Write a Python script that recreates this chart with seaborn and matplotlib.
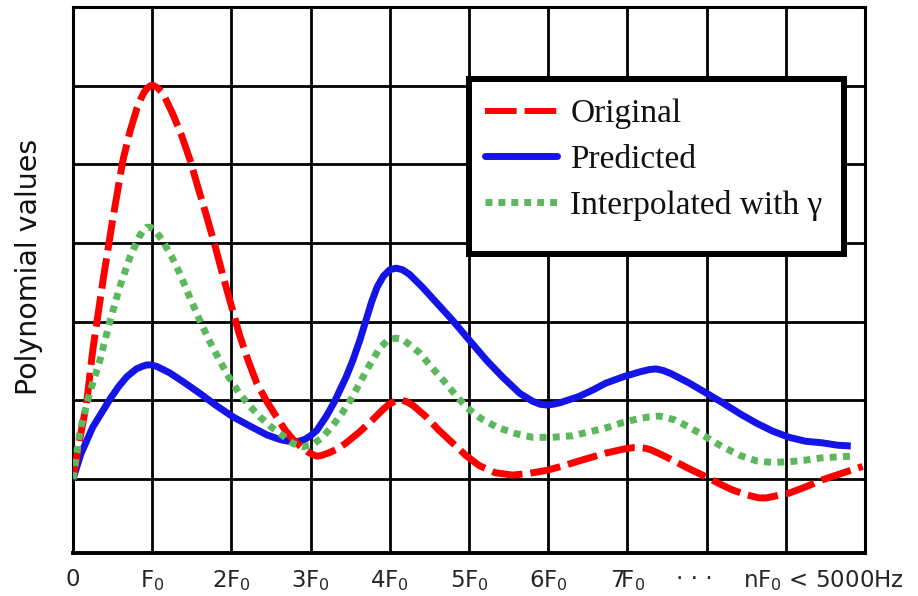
import matplotlib
matplotlib.use("Agg")
import matplotlib.pyplot as plt
from matplotlib.lines import Line2D
from matplotlib.patches import Rectangle
import seaborn as sns

# Harmonic positions in units of F0 and polynomial values of each curve
x_original = [0.00, 0.09, 0.17, 0.25, 0.38, 0.50, 0.63, 0.72, 0.81, 0.86, 0.90,
              0.94, 0.98, 1.02, 1.07, 1.12, 1.16, 1.26, 1.37, 1.48, 1.58, 1.69,
              1.80, 1.90, 2.00, 2.10, 2.21, 2.32, 2.45, 2.57, 2.68, 2.78, 2.90,
              2.97, 3.03, 3.08, 3.14, 3.25, 3.35, 3.45, 3.62, 3.78, 3.92, 3.99,
              4.05, 4.10, 4.16, 4.22, 4.30, 4.46, 4.62, 4.79, 4.96, 5.13, 5.33,
              5.55, 5.75, 5.98, 6.20, 6.39, 6.56, 6.73, 6.95, 7.08, 7.15, 7.23,
              7.30, 7.45, 7.57, 7.78, 7.99, 8.16, 8.33, 8.50, 8.58, 8.66, 8.75,
              8.85, 9.04, 9.25, 9.46, 9.70, 9.97]
y_original = [0.00, 0.53, 0.95, 1.64, 2.53, 3.29, 4.05, 4.42, 4.72, 4.84, 4.92,
              4.97, 5.00, 5.00, 4.97, 4.92, 4.85, 4.64, 4.37, 4.05, 3.70, 3.33,
              2.94, 2.56, 2.20, 1.84, 1.51, 1.22, 0.98, 0.79, 0.62, 0.50, 0.39,
              0.34, 0.31, 0.29, 0.30, 0.34, 0.39, 0.46, 0.60, 0.75, 0.89, 0.95,
              0.98, 1.00, 1.00, 0.98, 0.93, 0.79, 0.62, 0.46, 0.30, 0.17, 0.08,
              0.05, 0.07, 0.11, 0.17, 0.23, 0.28, 0.33, 0.38, 0.40, 0.40, 0.39,
              0.37, 0.30, 0.24, 0.13, 0.03, -0.06, -0.14, -0.20, -0.22, -0.24,
              -0.24, -0.22, -0.18, -0.10, -0.01, 0.07, 0.16]

x_predicted = [0.00, 0.10, 0.25, 0.36, 0.47, 0.58, 0.68, 0.80, 0.87, 0.93, 0.99,
               1.06, 1.22, 1.40, 1.60, 1.80, 2.02, 2.24, 2.45, 2.62, 2.72, 2.78,
               2.85, 2.92, 3.00, 3.08, 3.20, 3.30, 3.37, 3.45, 3.53, 3.62, 3.70,
               3.77, 3.84, 3.92, 4.00, 4.08, 4.16, 4.25, 4.41, 4.60, 4.79, 5.00,
               5.22, 5.43, 5.64, 5.80, 5.90, 5.98, 6.06, 6.15, 6.39, 6.56, 6.73,
               6.95, 7.15, 7.27, 7.36, 7.45, 7.55, 7.78, 8.00, 8.20, 8.42, 8.63,
               8.83, 9.04, 9.25, 9.46, 9.65, 9.82]
y_predicted = [0.00, 0.32, 0.66, 0.84, 1.02, 1.18, 1.30, 1.40, 1.43, 1.45, 1.45,
               1.43, 1.35, 1.23, 1.09, 0.94, 0.79, 0.67, 0.56, 0.50, 0.48, 0.47,
               0.48, 0.50, 0.55, 0.62, 0.80, 0.98, 1.13, 1.30, 1.50, 1.76, 2.02,
               2.25, 2.44, 2.58, 2.66, 2.68, 2.66, 2.60, 2.44, 2.23, 2.02, 1.77,
               1.51, 1.29, 1.09, 0.99, 0.95, 0.94, 0.95, 0.97, 1.05, 1.13, 1.22,
               1.30, 1.36, 1.39, 1.40, 1.38, 1.34, 1.22, 1.09, 0.97, 0.83, 0.71,
               0.61, 0.53, 0.48, 0.46, 0.43, 0.42]

x_interp = [0.00, 0.09, 0.21, 0.34, 0.47, 0.59, 0.72, 0.83, 0.88, 0.93, 0.98,
            1.03, 1.13, 1.24, 1.35, 1.47, 1.60, 1.72, 1.85, 1.97, 2.10, 2.23,
            2.36, 2.48, 2.61, 2.78, 2.90, 3.03, 3.15, 3.28, 3.40, 3.52, 3.62,
            3.75, 3.87, 3.98, 4.08, 4.15, 4.22, 4.38, 4.52, 4.67, 4.82, 4.97,
            5.15, 5.35, 5.58, 5.80, 6.05, 6.31, 6.52, 6.73, 6.95, 7.15, 7.28,
            7.40, 7.50, 7.60, 7.78, 8.00, 8.20, 8.42, 8.63, 8.83, 9.04, 9.25,
            9.46, 9.65, 9.82]
y_interp = [0.00, 0.62, 1.09, 1.51, 2.02, 2.44, 2.82, 3.07, 3.15, 3.20, 3.20,
            3.17, 3.03, 2.84, 2.61, 2.32, 2.02, 1.76, 1.51, 1.29, 1.09, 0.93,
            0.79, 0.68, 0.58, 0.45, 0.41, 0.44, 0.53, 0.68, 0.84, 1.03, 1.22,
            1.46, 1.66, 1.77, 1.79, 1.78, 1.73, 1.60, 1.43, 1.26, 1.08, 0.91,
            0.77, 0.66, 0.58, 0.53, 0.53, 0.55, 0.60, 0.65, 0.72, 0.77, 0.79,
            0.80, 0.78, 0.75, 0.66, 0.53, 0.41, 0.30, 0.23, 0.21, 0.22, 0.24,
            0.27, 0.28, 0.29]

series_labels = ["Original", "Predicted", "Interpolated with \u03b3"]
harmonic_ticks = [0, 1, 2, 3, 4, 5, 6, 7, 8, 9, 10]
harmonic_labels = ["0", r"F$_0$", r"2F$_0$", r"3F$_0$", r"4F$_0$", r"5F$_0$",
                   r"6F$_0$", r"7F$_0$", "", "", ""]
extra_ticks = [7.85, 9.47]
extra_labels = ["\u00b7 \u00b7 \u00b7", r"nF$_0$ < 5000Hz"]

RED = "#ff0000"
BLUE = "#1414e6"
GREEN = "#5cb85c"

sns.set_theme(style="white")
plt.rcParams["font.family"] = ["DejaVu Sans"]
plt.rcParams["mathtext.fontset"] = "dejavusans"

fig = plt.figure(figsize=(9.18, 5.96), dpi=100)
ax = fig.add_axes([0.0795, 0.0722, 0.8628, 0.9161])

lw = 5.0
sns.lineplot(x=x_predicted, y=y_predicted, ax=ax, color=BLUE, linewidth=lw,
             errorbar=None, sort=False, zorder=2,
             solid_joinstyle="round", solid_capstyle="butt")
sns.lineplot(x=x_original, y=y_original, ax=ax, color=RED, linewidth=lw,
             errorbar=None, sort=False, zorder=3, dash_joinstyle="round")
ax.lines[-1].set_dashes((4.4, 1.15))
sns.lineplot(x=x_interp, y=y_interp, ax=ax, color=GREEN, linewidth=lw,
             errorbar=None, sort=False, zorder=4)
ax.lines[-1].set_dashes((1.0, 0.9))

ax.set_xlim(0, 10)
ax.set_ylim(-0.94, 6)

# grid on every F0 step; the two trailing labels sit between grid lines
ax.set_xticks(harmonic_ticks)
ax.set_xticklabels(harmonic_labels, fontsize=16.5)
ax.set_xticks(extra_ticks, minor=True)
ax.set_xticklabels(extra_labels, minor=True, fontsize=16.5)
ax.set_yticks([0, 1, 2, 3, 4, 5])
ax.set_yticklabels([])
ax.tick_params(axis="both", which="both", length=0)
ax.tick_params(axis="x", which="both", pad=11)
ax.grid(False)
ax.xaxis.grid(True, which="major", color="black", linewidth=2.0)
ax.yaxis.grid(True, which="major", color="black", linewidth=2.0)
ax.set_axisbelow(True)

for side, sp in ax.spines.items():
    sp.set_visible(True)
    sp.set_color("black")
    sp.set_linewidth(2.2)
ax.spines["bottom"].set_linewidth(2.8)

ax.set_xlabel("")
ax.set_ylabel("Polynomial values", fontsize=20.5, color="#111111")
ax.yaxis.set_label_coords(-0.038, 0.524)

# legend box with its own thick frame
box = Rectangle((0.500, 0.5476), 0.473, 0.3204, transform=ax.transAxes,
                facecolor="white", edgecolor="black", linewidth=4.3,
                zorder=6)
ax.add_patch(box)

handles = [
    Line2D([], [], color=RED, linewidth=4.3, dashes=(5.3, 1.33)),
    Line2D([], [], color=BLUE, linewidth=5.0),
    Line2D([], [], color=GREEN, linewidth=5.0, dashes=(1.0, 0.86)),
]
leg = ax.legend(handles, series_labels, loc="upper left",
                bbox_to_anchor=(0.520, 0.832), frameon=False,
                prop={"family": "Liberation Serif", "size": 24},
                handlelength=2.16, handletextpad=0.4, labelspacing=0.45,
                borderpad=0.0, borderaxespad=0.0)
leg.set_zorder(7)
for t in leg.get_texts():
    t.set_color("#111111")

fig.savefig("out.png", dpi=100)
